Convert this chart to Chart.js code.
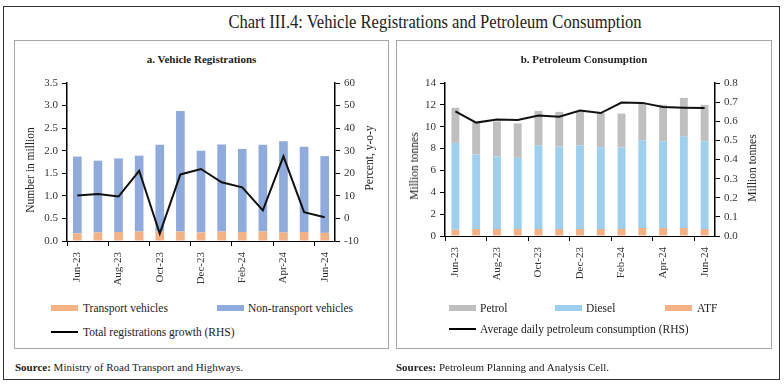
<!DOCTYPE html>
<html lang="en">
<head>
<meta charset="UTF-8">
<title>Chart III.4: Vehicle Registrations and Petroleum Consumption</title>
<script src="https://cdn.jsdelivr.net/npm/chart.js"></script>
<style>
    body { margin: 0; width: 784px; height: 385px; background: #fff; font-family: "Liberation Serif", serif; color: #222; position: relative; overflow: hidden; }
    .abs { position: absolute; }
    .frame { left: 3px; top: 6px; width: 775px; height: 372px; border: 1px solid #333; }
    .panel { top: 40px; height: 307px; border: 1px solid #a6a6a6; }
    .title { left: 435px; top: 11px; font-size: 18px; line-height: 22px; white-space: nowrap; transform: translateX(-50%) scaleX(0.92); }
    .sub { font-size: 11px; font-weight: bold; line-height: 14px; text-align: center; }
    .ytitle { font-size: 11.5px; line-height: 14px; white-space: nowrap; transform: translate(-50%, -50%) rotate(-90deg); }
    .lg { font-size: 11.5px; line-height: 14px; white-space: nowrap; transform: translateY(-50%); }
    .sw { height: 6px; transform: translateY(-50%); }
    .ln { height: 2px; background: #000; transform: translateY(-50%); }
    .src { top: 360px; font-size: 11px; line-height: 14px; white-space: nowrap; }
</style>
</head>
<body>
    <div class="abs frame"></div>
    <div class="abs title">Chart III.4: Vehicle Registrations and Petroleum Consumption</div>

    <!-- panel a -->
    <div class="abs panel" style="left:14px; width:373px;"></div>
    <div class="abs sub" style="left:14px; width:375px; top:52px;">a. Vehicle Registrations</div>
    <canvas id="vehChart" class="abs" style="left:14px; top:70px;" width="374" height="230"></canvas>
    <div class="abs ytitle" style="left:30px; top:170px;">Number in million</div>
    <div class="abs ytitle" style="left:369px; top:158px;">Percent, y-o-y</div>
    <div class="abs sw" style="left:51px; top:308px; width:27px; background:#F4B183;"></div>
    <div class="abs lg" style="left:83px; top:308px;">Transport vehicles</div>
    <div class="abs sw" style="left:217px; top:308px; width:27px; background:#8FAADC;"></div>
    <div class="abs lg" style="left:248px; top:308px;">Non-transport vehicles</div>
    <div class="abs ln" style="left:51px; top:332px; width:27px;"></div>
    <div class="abs lg" style="left:83px; top:332px;">Total registrations growth (RHS)</div>
    <div class="abs src" style="left:15px;"><b>Source:</b> Ministry of Road Transport and Highways.</div>

    <!-- panel b -->
    <div class="abs panel" style="left:396px; width:374px;"></div>
    <div class="abs sub" style="left:396px; width:376px; top:52px;">b. Petroleum Consumption</div>
    <canvas id="petChart" class="abs" style="left:396px; top:70px;" width="375" height="230"></canvas>
    <div class="abs ytitle" style="left:414px; top:166px;">Million tonnes</div>
    <div class="abs ytitle" style="left:752px; top:168px;">Million tonnes</div>
    <div class="abs sw" style="left:449px; top:308px; width:27px; background:#BFBFBF;"></div>
    <div class="abs lg" style="left:480px; top:308px;">Petrol</div>
    <div class="abs sw" style="left:555px; top:308px; width:27px; background:#9DCFEF;"></div>
    <div class="abs lg" style="left:586px; top:308px;">Diesel</div>
    <div class="abs sw" style="left:665px; top:308px; width:27px; background:#F4B183;"></div>
    <div class="abs lg" style="left:697px; top:308px;">ATF</div>
    <div class="abs ln" style="left:449px; top:329px; width:27px;"></div>
    <div class="abs lg" style="left:480px; top:329px;">Average daily petroleum consumption (RHS)</div>
    <div class="abs src" style="left:396px;"><b>Sources:</b> Petroleum Planning and Analysis Cell.</div>

    <script>
        // Data
        const months = ['Jun-23', 'Jul-23', 'Aug-23', 'Sep-23', 'Oct-23', 'Nov-23', 'Dec-23',
                        'Jan-24', 'Feb-24', 'Mar-24', 'Apr-24', 'May-24', 'Jun-24'];

        // a. Vehicle registrations (million) and growth (%, y-o-y)
        const transport = [0.17, 0.19, 0.20, 0.21, 0.21, 0.21, 0.19, 0.21, 0.20, 0.21, 0.19, 0.20, 0.18];
        const nonTransport = [1.70, 1.59, 1.63, 1.68, 1.92, 2.67, 1.81, 1.93, 1.84, 1.92, 2.02, 1.89, 1.70];
        const regGrowth = [10.2, 10.8, 9.7, 21.1, -6.7, 19.5, 21.9, 16.0, 13.8, 3.6, 27.5, 2.8, 0.5];

        // b. Petroleum consumption (million tonnes)
        const atf = [0.58, 0.64, 0.64, 0.64, 0.64, 0.64, 0.64, 0.64, 0.64, 0.73, 0.73, 0.73, 0.64];
        const diesel = [7.94, 6.81, 6.63, 6.51, 7.66, 7.54, 7.66, 7.48, 7.46, 8.03, 7.94, 8.39, 8.03];
        const petrol = [3.21, 2.97, 3.21, 3.15, 3.15, 3.18, 3.10, 3.13, 3.10, 3.44, 3.33, 3.52, 3.33];
        const avgDaily = [0.652, 0.593, 0.609, 0.607, 0.630, 0.624, 0.656, 0.643, 0.698, 0.696, 0.674, 0.671, 0.669];

        // axis ranges
        const vehLeft = { min: 0, max: 3.5, step: 0.5 };
        const vehRight = { min: -10, max: 60, step: 10 };
        const petLeft = { min: 0, max: 14, step: 2 };
        const petRight = { min: 0, max: 0.8, step: 0.1 };

        const tickFont = { family: 'Liberation Serif', size: 11 };
        const ink = '#333';

        function xAxis(h) {
            return {
                stacked: true,
                offset: true,
                grid: {
                    offset: true,
                    drawOnChartArea: false,
                    tickLength: 5,
                    color: (c) => c.index % 2 === 0 ? '#000' : 'rgba(0,0,0,0)'
                },
                border: { color: '#000', width: 1 },
                ticks: {
                    autoSkip: false, minRotation: 90, maxRotation: 90, padding: 6,
                    color: ink, font: tickFont,
                    callback: function (v, i) { return i % 2 === 0 ? this.getLabelForValue(v) : ''; }
                },
                afterFit: (s) => { s.height = h; }
            };
        }

        function yAxis(pos, r, w, decimals, stacked) {
            return {
                position: pos,
                stacked: stacked,
                min: r.min, max: r.max,
                grid: { drawOnChartArea: false, tickLength: 5, color: '#000' },
                border: { color: '#000', width: 1.5 },
                ticks: {
                    stepSize: r.step, padding: 4, color: ink, font: tickFont,
                    callback: (v) => v.toFixed(decimals)
                },
                afterFit: (s) => { s.width = w; }
            };
        }

        const baseOpts = {
            responsive: false,
            animation: false,
            plugins: { legend: { display: false }, tooltip: { enabled: false } },
            layout: { padding: { top: 13, left: 0, right: 0, bottom: 0 } }
        };

        new Chart(document.getElementById('vehChart'), {
            type: 'bar',
            data: {
                labels: months,
                datasets: [
                    { type: 'line', label: 'Total registrations growth (RHS)', data: regGrowth, yAxisID: 'y1',
                      borderColor: '#111', borderWidth: 2, pointRadius: 0, tension: 0, order: 0 },
                    { label: 'Transport vehicles', data: transport, backgroundColor: '#F4B183',
                      barPercentage: 0.42, categoryPercentage: 1, order: 1 },
                    { label: 'Non-transport vehicles', data: nonTransport, backgroundColor: '#8FAADC',
                      barPercentage: 0.42, categoryPercentage: 1, order: 1 }
                ]
            },
            options: Object.assign({}, baseOpts, {
                scales: {
                    x: xAxis(59),
                    y: yAxis('left', vehLeft, 53, 1, true),
                    y1: yAxis('right', vehRight, 53, 0, false)
                }
            })
        });

        new Chart(document.getElementById('petChart'), {
            type: 'bar',
            data: {
                labels: months,
                datasets: [
                    { type: 'line', label: 'Average daily petroleum consumption (RHS)', data: avgDaily, yAxisID: 'y1',
                      borderColor: '#111', borderWidth: 2, pointRadius: 0, tension: 0, order: 0 },
                    { label: 'ATF', data: atf, backgroundColor: '#F4B183',
                      barPercentage: 0.38, categoryPercentage: 1, order: 1 },
                    { label: 'Diesel', data: diesel, backgroundColor: '#9DCFEF',
                      barPercentage: 0.38, categoryPercentage: 1, order: 1 },
                    { label: 'Petrol', data: petrol, backgroundColor: '#BFBFBF',
                      barPercentage: 0.38, categoryPercentage: 1, order: 1 }
                ]
            },
            options: Object.assign({}, baseOpts, {
                scales: {
                    x: xAxis(64),
                    y: yAxis('left', petLeft, 49, 0, true),
                    y1: yAxis('right', petRight, 56, 1, false)
                }
            })
        });
    </script>
</body>
</html>
